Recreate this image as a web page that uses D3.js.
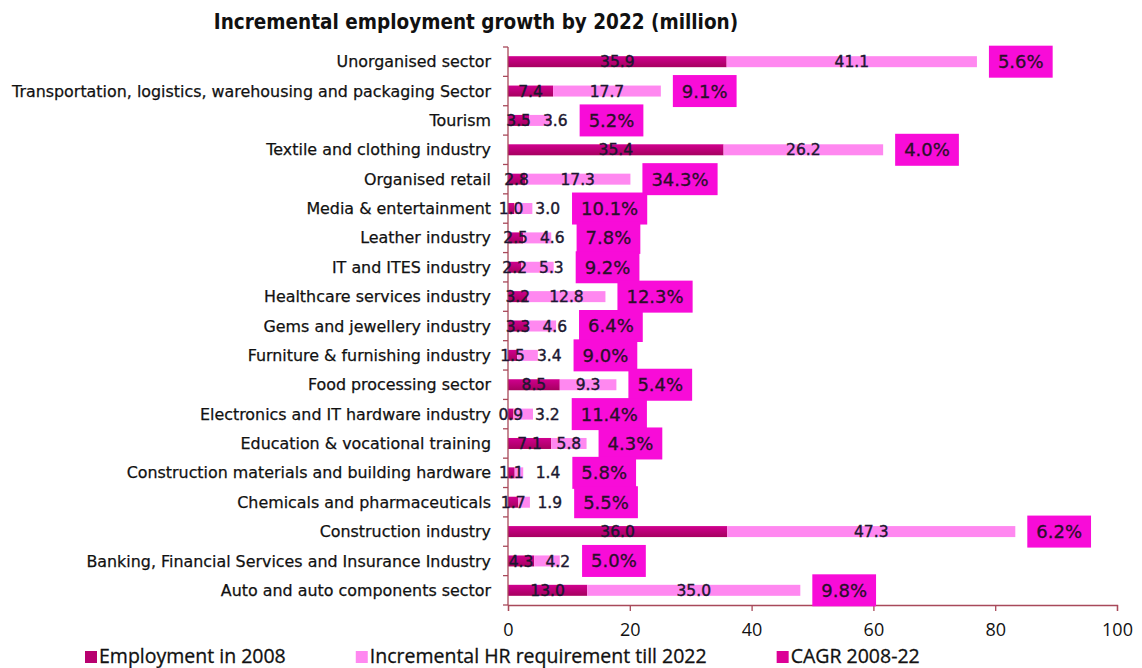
<!DOCTYPE html>
<html>
<head>
<meta charset="utf-8">
<script src="https://cdn.jsdelivr.net/npm/d3@7/dist/d3.min.js"></script>
<style>
  html, body { margin: 0; padding: 0; background: #fff; }
  svg { display: block; }
</style>
</head>
<body>
<svg id="chart" width="1142" height="668"></svg>
<script>
// Sectors, top to bottom
const sectors = [
  "Unorganised sector",
  "Transportation, logistics, warehousing and packaging Sector",
  "Tourism",
  "Textile and clothing industry",
  "Organised retail",
  "Media & entertainment",
  "Leather industry",
  "IT and ITES industry",
  "Healthcare services industry",
  "Gems and jewellery industry",
  "Furniture & furnishing industry",
  "Food processing sector",
  "Electronics and IT hardware industry",
  "Education & vocational training",
  "Construction materials and building hardware",
  "Chemicals and pharmaceuticals",
  "Construction industry",
  "Banking, Financial Services and Insurance Industry",
  "Auto and auto components sector"
];

// Employment in 2008 (million)
const employment2008 = [35.9, 7.4, 3.5, 35.4, 2.8, 1.0, 2.5, 2.2, 3.2, 3.3, 1.5, 8.5, 0.9, 7.1, 1.1, 1.7, 36.0, 4.3, 13.0];

// Incremental HR requirement till 2022 (million)
const incremental2022 = [41.1, 17.7, 3.6, 26.2, 17.3, 3.0, 4.6, 5.3, 12.8, 4.6, 3.4, 9.3, 3.2, 5.8, 1.4, 1.9, 47.3, 4.2, 35.0];

// CAGR 2008-22 (%)
const cagr = [5.6, 9.1, 5.2, 4.0, 34.3, 10.1, 7.8, 9.2, 12.3, 6.4, 9.0, 5.4, 11.4, 4.3, 5.8, 5.5, 6.2, 5.0, 9.8];

const xTicks = [0, 20, 40, 60, 80, 100];

const seriesNames = ["Employment in 2008", "Incremental HR requirement till 2022", "CAGR 2008-22"];

const rows = sectors.map((s, i) => ({
  sector: s,
  base: employment2008[i],
  inc: incremental2022[i],
  cagr: cagr[i]
}));

const svg = d3.select("#chart");
const axisColor = "#a8495a";
const darkFill = "#b8006f";
const lightFill = "#ff88f0";
const boxFill = "#f80cd8";
const legendCagr = "#dc0096";
const labelColor = "#1c1830";
const baseFont = "'DejaVu Sans', Verdana, sans-serif";

const x = d3.scaleLinear().domain([0, 100]).range([508, 1117]);
const y = d3.scaleBand().domain(sectors).range([47, 605]).padding(0);
const barH = 11;

// gradient for the 2008 bars
const defs = svg.append("defs");
const g1 = defs.append("linearGradient").attr("id", "darkGrad").attr("x1", 0).attr("x2", 0).attr("y1", 0).attr("y2", 1);
g1.append("stop").attr("offset", "0%").attr("stop-color", "#d0008f");
g1.append("stop").attr("offset", "100%").attr("stop-color", "#a6005f");

// title
svg.append("text")
  .attr("x", 476).attr("y", 29)
  .attr("text-anchor", "middle")
  .style("font-family", "'DejaVu Sans Condensed', 'DejaVu Sans', sans-serif")
  .style("font-weight", "bold")
  .style("font-size", "20.5px")
  .attr("fill", "#111")
  .text("Incremental employment growth by 2022 (million)");

// category labels
svg.append("g").selectAll("text").data(rows).join("text")
  .attr("x", 491)
  .attr("y", d => y(d.sector) + y.bandwidth() / 2)
  .attr("dy", "0.35em")
  .attr("text-anchor", "end")
  .style("font-family", baseFont)
  .style("font-size", "15.9px")
  .attr("fill", "#111")
  .attr("stroke", "#111").attr("stroke-width", 0.25)
  .text(d => d.sector);

// bars
const barG = svg.append("g");
barG.selectAll("rect.base").data(rows).join("rect")
  .attr("class", "base")
  .attr("x", x(0))
  .attr("y", d => y(d.sector) + y.bandwidth() / 2 - barH / 2)
  .attr("width", d => x(d.base) - x(0))
  .attr("height", barH)
  .attr("fill", "url(#darkGrad)");

barG.selectAll("rect.inc").data(rows).join("rect")
  .attr("class", "inc")
  .attr("x", d => x(d.base))
  .attr("y", d => y(d.sector) + y.bandwidth() / 2 - barH / 2)
  .attr("width", d => x(d.base + d.inc) - x(d.base))
  .attr("height", barH)
  .attr("fill", lightFill);

// axes
const axG = svg.append("g");
axG.append("line")
  .attr("x1", x(0)).attr("x2", x(0))
  .attr("y1", y.range()[0]).attr("y2", y.range()[1])
  .attr("stroke", axisColor).attr("stroke-width", 1.3);
// category boundary ticks
const bounds = sectors.map(s => y(s)).concat([y.range()[1]]);
axG.selectAll("line.yt").data(bounds).join("line")
  .attr("class", "yt")
  .attr("x1", x(0) - 5).attr("x2", x(0))
  .attr("y1", d => d).attr("y2", d => d)
  .attr("stroke", axisColor).attr("stroke-width", 1.3);

const xAxis = d3.axisBottom(x).tickValues(xTicks).tickSize(6).tickPadding(12).tickFormat(d3.format("d"));
const xg = svg.append("g").attr("transform", `translate(0,${y.range()[1]})`).call(xAxis);
xg.select(".domain").attr("stroke", axisColor).attr("stroke-width", 1.3);
xg.selectAll(".tick line").attr("stroke", axisColor).attr("stroke-width", 1.3);
xg.selectAll(".tick text")
  .style("font-family", "'Open Sans', sans-serif")
  .style("font-size", "18px")
  .attr("fill", "#111");

// value labels
const lblG = svg.append("g")
  .style("font-family", baseFont)
  .style("font-size", "15.5px")
  .attr("fill", labelColor)
  .attr("stroke", labelColor)
  .attr("stroke-width", 0.4);

rows.forEach(d => {
  const cy = y(d.sector) + y.bandwidth() / 2;
  const t1 = lblG.append("text")
    .attr("x", x(d.base / 2)).attr("y", cy).attr("dy", "0.36em")
    .attr("text-anchor", "middle")
    .text(d3.format(".1f")(d.base));
  const w1 = t1.node().getComputedTextLength();
  const end1 = x(d.base / 2) + w1 / 2;

  const t2 = lblG.append("text")
    .attr("y", cy).attr("dy", "0.36em")
    .attr("text-anchor", "middle")
    .text(d3.format(".1f")(d.inc));
  const w2 = t2.node().getComputedTextLength();
  const c2 = Math.max(x(d.base + d.inc / 2), end1 + 12 + w2 / 2);
  t2.attr("x", c2);
  d.labelEnd = Math.max(x(d.base + d.inc), c2 + w2 / 2);
});

// CAGR boxes
const boxG = svg.append("g");
rows.forEach(d => {
  const cy = y(d.sector) + y.bandwidth() / 2;
  const g = boxG.append("g");
  const rect = g.append("rect").attr("fill", boxFill);
  const t = g.append("text")
    .attr("y", cy).attr("dy", "0.36em")
    .attr("text-anchor", "middle")
    .style("font-family", baseFont)
    .style("font-size", "18px")
    .attr("fill", "#2a0f2a")
    .attr("stroke", "#2a0f2a").attr("stroke-width", 0.3)
    .text(d3.format(".1f")(d.cagr) + "%");
  const w = t.node().getComputedTextLength();
  const left = d.labelEnd + 12;
  const bw = w + 18;
  rect.attr("x", left).attr("y", cy - 16).attr("width", bw).attr("height", 32);
  t.attr("x", left + bw / 2);
});

// legend
const legColors = [darkFill, lightFill, legendCagr];
const legG = svg.append("g");
let lx = 85;
seriesNames.forEach((name, i) => {
  legG.append("rect").attr("x", lx).attr("y", 651).attr("width", 12).attr("height", 12).attr("fill", legColors[i]);
  const t = legG.append("text")
    .attr("x", lx + 14).attr("y", 663)
    .style("font-family", "'Open Sans', sans-serif")
    .style("font-size", "19.5px")
    .attr("fill", "#111")
    .attr("stroke", "#111").attr("stroke-width", 0.3)
    .text(name);
  lx += 14 + t.node().getComputedTextLength() + 70;
});
</script>
</body>
</html>
